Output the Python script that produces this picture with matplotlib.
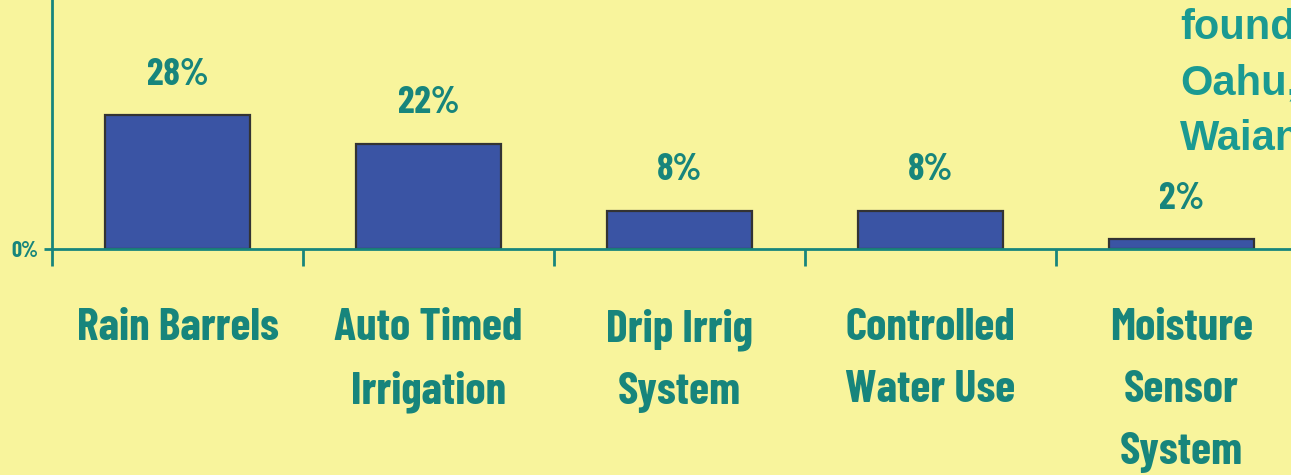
import matplotlib
matplotlib.use("Agg")
import matplotlib.pyplot as plt
import matplotlib.transforms as mtransforms

# water saving practices survey
categories = ["Rain Barrels", "Auto Timed\nIrrigation", "Drip Irrig\nSystem",
              "Controlled\nWater Use", "Moisture\nSensor\nSystem"]
percent = [28, 22, 8, 8, 2]
side_note = "found\nOahu,\nWaianae"

bg = "#F8F49C"
teal = "#17857C"
bar_blue = "#3A54A4"

narrow = ["Barlow Condensed", "Roboto Condensed", "DejaVu Sans"]

fig = plt.figure(figsize=(12.91, 4.75), dpi=100, facecolor=bg)
ax = fig.add_axes([52 / 1291, 226 / 475, 1255 / 1291, 249 / 475])
ax.set_facecolor(bg)

x = list(range(len(categories)))
ax.bar(x, percent, width=0.58, color=bar_blue, edgecolor="#333333",
       linewidth=1.6, zorder=2)

ax.set_xlim(-0.5, len(categories) - 0.5)
ax.set_ylim(0, 52)

for s in ["top", "right"]:
    ax.spines[s].set_visible(False)
for s in ["left", "bottom"]:
    ax.spines[s].set_color(teal)
    ax.spines[s].set_linewidth(2)
    ax.spines[s].set_zorder(3)

# tick marks sit on category boundaries
ax.set_xticks([i - 0.5 for i in range(len(categories) + 1)])
ax.set_xticklabels([])
ax.tick_params(axis="x", direction="out", length=12, width=2, color=teal)
ax.set_yticks([0])
ax.set_yticklabels(["0%"])
ax.tick_params(axis="y", direction="out", length=6, width=2, color=teal,
               labelcolor=teal, pad=4)
for lab in ax.get_yticklabels():
    lab.set_family(narrow)
    lab.set_fontweight("bold")
    lab.set_fontsize(16)

for xi, v in zip(x, percent):
    ax.annotate(f"{v}%", xy=(xi, v), xytext=(0, 29), textcoords="offset points",
                ha="center", va="center", color=teal, fontsize=27,
                fontweight="bold", family=narrow)

lab_tf = mtransforms.blended_transform_factory(ax.transData, fig.transFigure)
for xi, c in zip(x, categories):
    ax.text(xi, 1 - 308 / 475, c, transform=lab_tf, ha="center", va="top",
            color=teal, fontsize=33, fontweight="bold", family=narrow,
            linespacing=1.68, clip_on=False)

fig.text(1180 / 1291, 1 - 8 / 475, side_note, ha="left", va="top",
         color="#1A9A92", fontsize=30, fontweight="bold",
         family=["Liberation Sans", "DejaVu Sans"], linespacing=1.5)

fig.savefig("out.png", dpi=100, facecolor=bg)
